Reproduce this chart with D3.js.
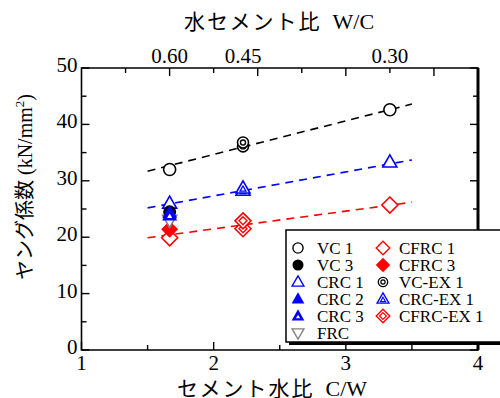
<!DOCTYPE html>
<html>
<head>
<meta charset="utf-8">
<script src="https://cdn.jsdelivr.net/npm/d3@7"></script>
<style>
  html, body { margin: 0; padding: 0; background: #fff; }
  svg { display: block; }
</style>
</head>
<body>
<svg id="chart" width="500" height="398"></svg>
<script>
// Young's modulus vs. cement-water ratio
const xTicksMajor = [1, 2, 3, 4];
const xTicksMinor = [1.5, 2.5, 3.5];
const yTicksMajor = [0, 10, 20, 30, 40, 50];
const yTicksMinor = [5, 15, 25, 35, 45];
const wcLabels = ["0.60", "0.45", "0.30"];
const topTicksLong = [5/3, 7/3, 3, 11/3];
const topTicksShort = [4/3, 2, 8/3, 10/3];

// series: [C/W, E (kN/mm2)]
const vc1 = [[1.667, 32.0], [3.333, 42.6]];
const vc3 = [[1.667, 24.5]];
const crc1 = [[1.667, 26.0], [3.333, 33.3]];
const crc2 = [[1.667, 24.3]];
const crc3 = [[1.667, 23.9]];
const frc = [[1.667, 23.0]];
const cfrc1 = [[1.667, 19.9], [3.333, 25.7]];
const cfrc3 = [[1.667, 21.4]];
const vcEx1 = [[2.222, 36.1], [2.222, 36.8]];
const crcEx1 = [[2.222, 28.3], [2.222, 28.7]];
const cfrcEx1 = [[2.222, 21.5], [2.222, 22.9]];

// regression lines (end points)
const fitVC = [[1.5, 31.7], [3.5, 43.6]];
const fitCRC = [[1.5, 25.2], [3.5, 33.7]];
const fitCFRC = [[1.5, 19.9], [3.5, 26.2]];

const svg = d3.select("#chart");
const x = d3.scaleLinear().domain([1, 4]).range([81.5, 478]);
const y = d3.scaleLinear().domain([0, 50]).range([350, 68]);
const serif = "'Liberation Serif', 'Times New Roman', serif";
const jp = "'Noto Sans CJK JP', sans-serif";

// dashed fit lines
const line = d3.line().x(d => x(d[0])).y(d => y(d[1]));
[[fitVC, "#000"], [fitCRC, "#0000ff"], [fitCFRC, "#ff0000"]].forEach(([d, c]) => {
  svg.append("path").attr("d", line(d)).attr("fill", "none")
    .attr("stroke", c).attr("stroke-width", 1.6).attr("stroke-dasharray", "8,6");
});

// marker shapes
function tri(s, up = true) {
  const h = s * 0.87;
  return up ? `M0,${-h*0.6}L${s/2},${h*0.4}L${-s/2},${h*0.4}Z`
            : `M0,${h*0.6}L${s/2},${-h*0.4}L${-s/2},${-h*0.4}Z`;
}
function dia(s) { return `M0,${-s}L${s},0L0,${s}L${-s},0Z`; }

const kinds = {
  vc1: g => g.append("circle").attr("r", 6).attr("fill", "#fff").attr("stroke", "#000").attr("stroke-width", 1.6),
  vc3: g => g.append("circle").attr("r", 6.5).attr("fill", "#000"),
  crc1: g => g.append("path").attr("d", tri(14)).attr("fill", "#fff").attr("stroke", "#0000ff").attr("stroke-width", 1.6),
  crc2: g => g.append("path").attr("d", tri(15)).attr("fill", "#0000ff"),
  crc3: g => {
    g.append("path").attr("d", tri(15)).attr("fill", "#0000ff");
    g.append("path").attr("d", tri(5)).attr("transform", "translate(0,1)").attr("fill", "#fff");
  },
  frc: g => g.append("path").attr("d", tri(14, false)).attr("fill", "#fff").attr("stroke", "#808080").attr("stroke-width", 1.6),
  cfrc1: g => g.append("path").attr("d", dia(8)).attr("fill", "#fff").attr("stroke", "#ff0000").attr("stroke-width", 1.6),
  cfrc3: g => g.append("path").attr("d", dia(8.5)).attr("fill", "#ff0000"),
  vcEx1: g => {
    g.append("circle").attr("r", 5.5).attr("fill", "#fff").attr("stroke", "#000").attr("stroke-width", 1.6);
    g.append("circle").attr("r", 2.5).attr("fill", "none").attr("stroke", "#000").attr("stroke-width", 1.4);
  },
  crcEx1: g => {
    g.append("path").attr("d", tri(14)).attr("fill", "#fff").attr("stroke", "#0000ff").attr("stroke-width", 1.6);
    g.append("path").attr("d", tri(6)).attr("transform", "translate(0,1)").attr("fill", "none").attr("stroke", "#0000ff").attr("stroke-width", 1.3);
  },
  cfrcEx1: g => {
    g.append("path").attr("d", dia(8)).attr("fill", "#fff").attr("stroke", "#ff0000").attr("stroke-width", 1.6);
    g.append("path").attr("d", dia(4)).attr("fill", "none").attr("stroke", "#ff0000").attr("stroke-width", 1.4);
  }
};

const seriesList = [
  ["cfrc1", cfrc1], ["cfrc3", cfrc3], ["frc", frc], ["crc1", crc1], ["vc3", vc3],
  ["crc2", crc2], ["crc3", crc3], ["vc1", vc1],
  ["vcEx1", vcEx1], ["crcEx1", crcEx1], ["cfrcEx1", cfrcEx1]
];
seriesList.forEach(([k, data]) => {
  data.forEach(d => {
    const g = svg.append("g").attr("transform", `translate(${x(d[0])},${y(d[1])})`);
    kinds[k](g);
  });
});

// frame
const [x0, x1] = x.range();
const [y0, y1] = y.range();
svg.append("path").attr("d", `M${x0},${y0}V${y1}H${x1}V${y0}Z`)
  .attr("fill", "none").attr("stroke", "#000").attr("stroke-width", 1.6);
svg.append("line").attr("x1", x1).attr("x2", x1).attr("y1", y1).attr("y2", y0)
  .attr("stroke", "#000").attr("stroke-width", 3);

const ticks = svg.append("g").attr("stroke", "#000").attr("stroke-width", 1.4);
xTicksMajor.forEach(v => ticks.append("line").attr("x1", x(v)).attr("x2", x(v)).attr("y1", y0).attr("y2", y0 - 8));
xTicksMinor.forEach(v => ticks.append("line").attr("x1", x(v)).attr("x2", x(v)).attr("y1", y0).attr("y2", y0 - 5));
topTicksLong.forEach(v => ticks.append("line").attr("x1", x(v)).attr("x2", x(v)).attr("y1", y1).attr("y2", y1 + 8));
topTicksShort.forEach(v => ticks.append("line").attr("x1", x(v)).attr("x2", x(v)).attr("y1", y1).attr("y2", y1 + 5));
yTicksMajor.forEach(v => {
  ticks.append("line").attr("x1", x0).attr("x2", x0 + 8).attr("y1", y(v)).attr("y2", y(v));
  ticks.append("line").attr("x1", x1).attr("x2", x1 - 8).attr("y1", y(v)).attr("y2", y(v));
});
yTicksMinor.forEach(v => {
  ticks.append("line").attr("x1", x0).attr("x2", x0 + 5).attr("y1", y(v)).attr("y2", y(v));
  ticks.append("line").attr("x1", x1).attr("x2", x1 - 5).attr("y1", y(v)).attr("y2", y(v));
});

// tick labels
const tickFont = 21;
xTicksMajor.forEach(v => svg.append("text").attr("x", x(v)).attr("y", 370)
  .attr("text-anchor", "middle").attr("font-family", serif).attr("font-size", tickFont).text(v));
yTicksMajor.forEach(v => svg.append("text").attr("x", x0 - 4).attr("y", y(v) + 4)
  .attr("text-anchor", "end").attr("font-family", serif).attr("font-size", tickFont).text(v));
wcLabels.forEach(s => svg.append("text").attr("x", x(1 / parseFloat(s))).attr("y", 63)
  .attr("text-anchor", "middle").attr("font-family", serif).attr("font-size", tickFont).text(s));

// axis titles
function title(sel, jpText, latin) {
  sel.append("tspan").attr("font-family", jp).attr("letter-spacing", 2).text(jpText);
  sel.append("tspan").attr("font-family", serif).attr("font-size", 22).text("\u00a0\u00a0" + latin);
}
title(svg.append("text").attr("x", 272).attr("y", 396).attr("text-anchor", "middle").attr("font-size", 21),
  "セメント水比", "C/W");
title(svg.append("text").attr("x", 279).attr("y", 29).attr("text-anchor", "middle").attr("font-size", 21),
  "水セメント比", "W/C");
const yt = svg.append("text").attr("transform", "translate(32,187) rotate(-90)")
  .attr("text-anchor", "middle").attr("font-size", 20);
yt.append("tspan").attr("font-family", jp).text("ヤング係数");
yt.append("tspan").attr("font-family", serif).text(" (kN/mm");
yt.append("tspan").attr("font-family", serif).attr("font-size", 13).attr("dy", -8).text("2");
yt.append("tspan").attr("font-family", serif).attr("dy", 8).text(")");

// legend
const lg = svg.append("g").attr("transform", "translate(286,230)");
lg.append("rect").attr("x", 3).attr("y", 3).attr("width", 230).attr("height", 112).attr("fill", "#000");
lg.append("rect").attr("width", 230).attr("height", 112).attr("fill", "#fff").attr("stroke", "#000").attr("stroke-width", 1.5);
const legendCol1 = [["vc1", "VC 1"], ["vc3", "VC 3"], ["crc1", "CRC 1"], ["crc2", "CRC 2"], ["crc3", "CRC 3"], ["frc", "FRC"]];
const legendCol2 = [["cfrc1", "CFRC 1"], ["cfrc3", "CFRC 3"], ["vcEx1", "VC-EX 1"], ["crcEx1", "CRC-EX 1"], ["cfrcEx1", "CFRC-EX 1"]];
[[legendCol1, 12, 31], [legendCol2, 97, 113]].forEach(([items, mx, tx]) => {
  items.forEach(([k, label], i) => {
    const yy = 18 + i * 17;
    const g = lg.append("g").attr("transform", `translate(${mx},${yy}) scale(0.85)`);
    kinds[k](g);
    lg.append("text").attr("x", tx).attr("y", yy + 5.5).attr("font-family", serif)
      .attr("font-size", 17).text(label);
  });
});
</script>
</body>
</html>
